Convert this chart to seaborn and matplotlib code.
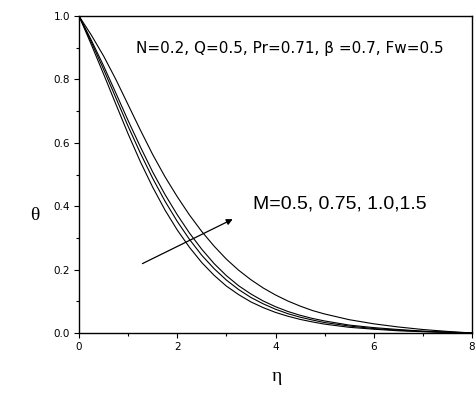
import numpy as np
import pandas as pd
import matplotlib
matplotlib.use("Agg")
import matplotlib.pyplot as plt
import seaborn as sns

eta = [0, 0.25, 0.5, 0.75, 1.0, 1.25, 1.5, 1.75, 2.0, 2.25, 2.5, 2.75, 3.0,
       3.25, 3.5, 3.75, 4.0, 4.25, 4.5, 4.75, 5.0, 5.5, 6.0, 6.5, 7.0, 7.5, 8.0]
theta_M05 = [1.000, 0.910, 0.817, 0.722, 0.628, 0.540, 0.460, 0.388, 0.325, 0.270, 0.222, 0.182, 0.148,
             0.121, 0.098, 0.080, 0.065, 0.053, 0.043, 0.035, 0.028, 0.018, 0.012, 0.007, 0.004, 0.002, 0.0]
theta_M075 = [1.000, 0.918, 0.832, 0.742, 0.652, 0.567, 0.488, 0.416, 0.352, 0.295, 0.245, 0.203, 0.167,
              0.137, 0.112, 0.092, 0.075, 0.061, 0.050, 0.041, 0.033, 0.022, 0.014, 0.009, 0.005, 0.002, 0.0]
theta_M10 = [1.000, 0.924, 0.843, 0.757, 0.670, 0.587, 0.508, 0.437, 0.373, 0.315, 0.264, 0.219, 0.181,
             0.149, 0.123, 0.101, 0.083, 0.068, 0.056, 0.046, 0.038, 0.025, 0.017, 0.011, 0.006, 0.003, 0.0]
theta_M15 = [1.000, 0.940, 0.874, 0.800, 0.720, 0.640, 0.563, 0.493, 0.430, 0.372, 0.320, 0.274, 0.233,
             0.198, 0.168, 0.142, 0.120, 0.101, 0.085, 0.071, 0.060, 0.042, 0.029, 0.019, 0.011, 0.005, 0.0]
M_labels = ["0.5", "0.75", "1.0", "1.5"]

series = [theta_M05, theta_M075, theta_M10, theta_M15]
df = pd.concat([pd.DataFrame({"eta": eta, "theta": s, "M": m}) for s, m in zip(series, M_labels)],
               ignore_index=True)

sns.set_style("ticks")
plt.rcParams["font.family"] = ["DejaVu Sans"]
plt.rcParams["text.color"] = "black"
plt.rcParams["xtick.color"] = "black"
plt.rcParams["ytick.color"] = "black"
plt.rcParams["axes.labelcolor"] = "black"

fig = plt.figure(figsize=(4.75, 3.94), dpi=100)
ax = fig.add_axes([79/475, 61/394, (472-79)/475, (333-16)/394])

sns.lineplot(data=df, x="eta", y="theta", units="M", estimator=None, color="black",
             linewidth=0.8, ax=ax, legend=False)

ax.set_xlim(0, 8)
ax.set_ylim(0, 1.0)
ax.set_xticks([0, 2, 4, 6, 8])
ax.set_xticks([1, 3, 5, 7], minor=True)
ax.set_yticks([0.0, 0.2, 0.4, 0.6, 0.8, 1.0])
ax.set_yticks([0.1, 0.3, 0.5, 0.7, 0.9], minor=True)
ax.set_yticklabels(["0.0", "0.2", "0.4", "0.6", "0.8", "1.0"])
ax.tick_params(which="major", direction="out", length=3.6, width=0.8, labelsize=7.5, pad=3,
               colors="black")
ax.tick_params(which="minor", direction="out", length=2.2, width=0.8, colors="black")
for sp in ax.spines.values():
    sp.set_visible(True)
    sp.set_linewidth(1.0)
    sp.set_color("black")

ax.set_xlabel("η", family=["Liberation Serif", "DejaVu Serif"], fontsize=14, va="top", color="black")
ax.xaxis.set_label_coords(0.504, -0.11)
ax.set_ylabel("θ", family=["Liberation Serif", "DejaVu Serif"], fontsize=14, rotation=0,
              va="center", ha="center", color="black")
ax.yaxis.set_label_coords(-0.112, 0.372)

ax.text(1.16, 0.899, "N=0.2, Q=0.5, Pr=0.71, β =0.7, Fw=0.5", fontsize=11.0, ha="left", va="center",
        color="black")
ax.text(3.54, 0.407, "M=0.5, 0.75, 1.0,1.5", fontsize=14, ha="left", va="center",
        family=["Liberation Sans", "DejaVu Sans"], color="black")
ax.annotate("", xy=(3.18, 0.363), xytext=(1.24, 0.215),
            arrowprops=dict(arrowstyle="-|>", color="black", lw=0.9, mutation_scale=9))

fig.savefig("out.png", dpi=100)
